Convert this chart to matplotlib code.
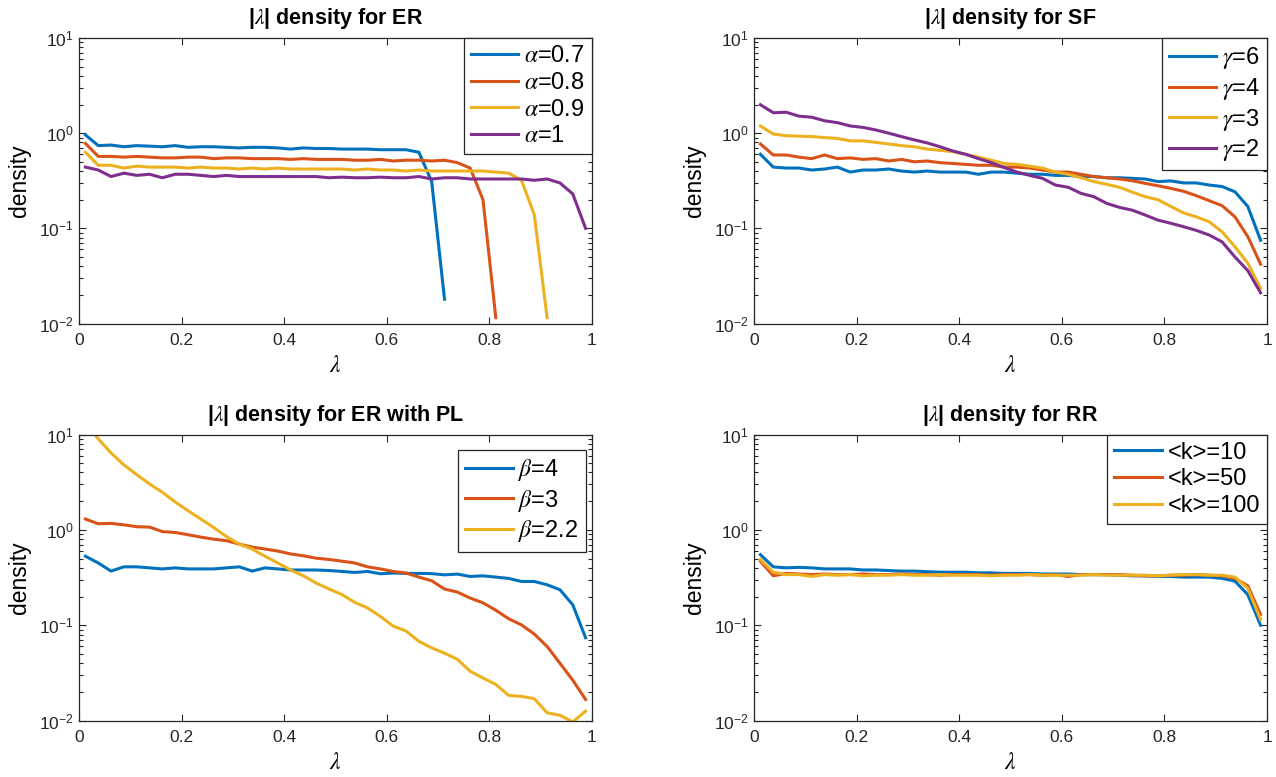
import matplotlib
matplotlib.use('Agg')
import matplotlib.pyplot as plt
import numpy as np
from matplotlib.ticker import LogLocator, FixedLocator, NullFormatter

plt.rcParams['font.family'] = ['Liberation Sans', 'DejaVu Sans']
plt.rcParams['mathtext.fontset'] = 'stix'
plt.rcParams['axes.edgecolor'] = '#262626'
plt.rcParams['xtick.color'] = '#262626'
plt.rcParams['ytick.color'] = '#262626'

# colores por defecto de MATLAB
c_blue = '#0072BD'
c_red = '#D95319'
c_yellow = '#EDB120'
c_purple = '#7E2F8E'

# centros de los bins (40 bins en [0,1])
lam = np.arange(40) * 0.025 + 0.0125

# 1. ER
er_alpha = ['0.7', '0.8', '0.9', '1']
er_07 = [0.96, 0.74, 0.75, 0.72, 0.74, 0.73, 0.72, 0.74, 0.71, 0.72, 0.72, 0.71, 0.70, 0.71, 0.71,
         0.70, 0.68, 0.70, 0.69, 0.69, 0.68, 0.68, 0.68, 0.67, 0.67, 0.67, 0.63, 0.31, 0.018]
er_08 = [0.78, 0.57, 0.57, 0.56, 0.57, 0.56, 0.55, 0.55, 0.56, 0.56, 0.54, 0.55, 0.55, 0.54, 0.54,
         0.54, 0.53, 0.54, 0.53, 0.53, 0.53, 0.52, 0.52, 0.53, 0.51, 0.52, 0.52, 0.51, 0.52, 0.49,
         0.43, 0.20, 0.0115]
er_09 = [0.63, 0.46, 0.46, 0.43, 0.45, 0.44, 0.44, 0.44, 0.43, 0.44, 0.43, 0.43, 0.42, 0.43, 0.42,
         0.43, 0.42, 0.42, 0.42, 0.42, 0.42, 0.41, 0.42, 0.41, 0.41, 0.40, 0.41, 0.40, 0.40, 0.40,
         0.40, 0.40, 0.39, 0.38, 0.32, 0.139, 0.0115]
er_10 = [0.44, 0.41, 0.35, 0.38, 0.36, 0.37, 0.34, 0.37, 0.37, 0.36, 0.35, 0.36, 0.35, 0.35, 0.35,
         0.35, 0.35, 0.35, 0.35, 0.34, 0.345, 0.34, 0.34, 0.345, 0.34, 0.34, 0.35, 0.33, 0.34, 0.34,
         0.33, 0.33, 0.33, 0.33, 0.33, 0.32, 0.33, 0.30, 0.23, 0.10]

# 2. SF
sf_gamma = ['6', '4', '3', '2']
sf_6 = [0.60, 0.44, 0.43, 0.43, 0.41, 0.42, 0.44, 0.39, 0.41, 0.41, 0.42, 0.40, 0.39, 0.40, 0.39,
        0.39, 0.39, 0.37, 0.39, 0.39, 0.38, 0.37, 0.37, 0.36, 0.36, 0.35, 0.35, 0.34, 0.34, 0.335,
        0.33, 0.31, 0.315, 0.30, 0.30, 0.285, 0.275, 0.242, 0.17, 0.075]
sf_4 = [0.77, 0.59, 0.59, 0.56, 0.54, 0.59, 0.54, 0.55, 0.53, 0.54, 0.51, 0.53, 0.50, 0.51, 0.49,
        0.48, 0.47, 0.46, 0.46, 0.44, 0.44, 0.43, 0.41, 0.39, 0.39, 0.37, 0.35, 0.34, 0.33, 0.316,
        0.297, 0.28, 0.263, 0.245, 0.22, 0.195, 0.173, 0.132, 0.082, 0.042]
sf_3 = [1.19, 0.98, 0.94, 0.93, 0.92, 0.90, 0.88, 0.83, 0.83, 0.80, 0.77, 0.74, 0.72, 0.68, 0.66,
        0.64, 0.60, 0.56, 0.52, 0.48, 0.47, 0.45, 0.43, 0.39, 0.37, 0.34, 0.31, 0.29, 0.27, 0.24,
        0.215, 0.20, 0.17, 0.145, 0.132, 0.117, 0.092, 0.064, 0.043, 0.0235]
sf_2 = [1.99, 1.64, 1.66, 1.51, 1.47, 1.35, 1.29, 1.19, 1.15, 1.08, 1.00, 0.92, 0.85, 0.79, 0.72,
        0.65, 0.60, 0.54, 0.49, 0.436, 0.39, 0.36, 0.335, 0.285, 0.27, 0.233, 0.215, 0.183, 0.166,
        0.155, 0.138, 0.122, 0.113, 0.104, 0.095, 0.085, 0.072, 0.050, 0.036, 0.021]

# 3. ER con PL
pl_beta = ['4', '3', '2.2']
pl_4 = [0.53, 0.45, 0.37, 0.41, 0.41, 0.40, 0.39, 0.40, 0.39, 0.39, 0.39, 0.40, 0.41, 0.37, 0.40,
        0.39, 0.38, 0.38, 0.38, 0.375, 0.367, 0.358, 0.367, 0.347, 0.353, 0.35, 0.35, 0.348, 0.338,
        0.344, 0.325, 0.33, 0.32, 0.31, 0.288, 0.288, 0.266, 0.236, 0.164, 0.074]
pl_3 = [1.30, 1.16, 1.17, 1.13, 1.08, 1.07, 0.96, 0.94, 0.89, 0.84, 0.80, 0.77, 0.71, 0.66, 0.63,
        0.60, 0.56, 0.535, 0.505, 0.49, 0.47, 0.45, 0.41, 0.39, 0.367, 0.353, 0.32, 0.293, 0.24,
        0.223, 0.193, 0.172, 0.144, 0.117, 0.101, 0.081, 0.060, 0.040, 0.0266, 0.0167]
pl_22 = [13.5, 9.0, 6.4, 4.8, 3.8, 3.03, 2.48, 1.96, 1.59, 1.30, 1.06, 0.85, 0.71, 0.63, 0.53,
         0.45, 0.38, 0.33, 0.277, 0.24, 0.21, 0.174, 0.152, 0.124, 0.098, 0.087, 0.068, 0.058,
         0.051, 0.044, 0.033, 0.028, 0.024, 0.0184, 0.018, 0.017, 0.0121, 0.0114, 0.0097, 0.0126]

# 4. RR
rr_k = ['10', '50', '100']
rr_10 = [0.55, 0.41, 0.40, 0.405, 0.40, 0.39, 0.39, 0.39, 0.38, 0.38, 0.375, 0.37, 0.37, 0.365,
         0.36, 0.36, 0.36, 0.355, 0.355, 0.35, 0.35, 0.35, 0.345, 0.345, 0.345, 0.34, 0.34, 0.34,
         0.335, 0.33, 0.33, 0.325, 0.325, 0.32, 0.32, 0.32, 0.31, 0.29, 0.21, 0.10]
rr_50 = [0.47, 0.33, 0.35, 0.345, 0.34, 0.345, 0.34, 0.34, 0.345, 0.34, 0.34, 0.345, 0.34, 0.34,
         0.335, 0.34, 0.34, 0.34, 0.335, 0.34, 0.34, 0.34, 0.335, 0.34, 0.325, 0.34, 0.34, 0.34,
         0.34, 0.335, 0.33, 0.33, 0.335, 0.335, 0.34, 0.335, 0.33, 0.31, 0.26, 0.13]
rr_100 = [0.49, 0.36, 0.34, 0.34, 0.325, 0.34, 0.335, 0.34, 0.33, 0.335, 0.335, 0.34, 0.335,
          0.335, 0.34, 0.335, 0.335, 0.335, 0.33, 0.335, 0.335, 0.34, 0.335, 0.335, 0.335, 0.335,
          0.34, 0.335, 0.335, 0.335, 0.335, 0.33, 0.335, 0.34, 0.34, 0.335, 0.335, 0.32, 0.245,
          0.115]

W, H = 1276, 777
fig = plt.figure(figsize=(W / 100, H / 100), dpi=100)


def make_ax(x0, y0, x1, y1):
    # posicion en pixeles (arriba-izquierda / abajo-derecha)
    ax = fig.add_axes([x0 / W, 1 - y1 / H, (x1 - x0) / W, (y1 - y0) / H])
    ax.set_yscale('log')
    ax.set_xlim(0, 1)
    ax.set_ylim(1e-2, 1e1)
    ax.xaxis.set_major_locator(FixedLocator([0, 0.2, 0.4, 0.6, 0.8, 1]))
    ax.set_xticklabels(['0', '0.2', '0.4', '0.6', '0.8', '1'])
    ax.yaxis.set_major_locator(LogLocator(base=10, numticks=10))
    ax.yaxis.set_minor_locator(LogLocator(base=10, subs=np.arange(2, 10), numticks=20))
    ax.yaxis.set_minor_formatter(NullFormatter())
    ax.tick_params(which='both', direction='in', top=True, right=True, labelsize=12.5,
                   width=0.8)
    ax.tick_params(axis='x', which='major', pad=7)
    ax.tick_params(which='major', length=5)
    ax.tick_params(which='minor', length=3)
    for s in ax.spines.values():
        s.set_linewidth(0.9)
    ax.set_xlabel(r'$\lambda$', fontsize=17, labelpad=5)
    ax.set_ylabel('density', fontsize=16.5, labelpad=6)
    return ax


def legend(ax, labels, loc, anchor):
    lg = ax.legend(labels, loc=loc, bbox_to_anchor=anchor, fontsize=17, frameon=True,
                   fancybox=False, borderaxespad=0, handlelength=2.0, handletextpad=0.25,
                   borderpad=0.3, labelspacing=0.2)
    lg.get_frame().set_edgecolor('#262626')
    lg.get_frame().set_linewidth(0.9)
    lg.get_frame().set_alpha(1)
    return lg


lw = 2.2

ax1 = make_ax(79, 38, 592, 323.5)
for v, c in zip([er_07, er_08, er_09, er_10], [c_blue, c_red, c_yellow, c_purple]):
    ax1.plot(lam[:len(v)], v, color=c, lw=lw)
ax1.set_title(r'|$\lambda$| density for ER', fontsize=15.5, fontweight='bold', pad=10)
legend(ax1, [r'$\alpha$=' + a for a in er_alpha], 'upper right', (1, 1))

ax2 = make_ax(754, 38, 1267, 323.5)
for v, c in zip([sf_6, sf_4, sf_3, sf_2], [c_blue, c_red, c_yellow, c_purple]):
    ax2.plot(lam, v, color=c, lw=lw)
ax2.set_title(r'|$\lambda$| density for SF', fontsize=15.5, fontweight='bold', pad=10)
legend(ax2, [r'$\gamma$=' + g for g in sf_gamma], 'upper right', (1, 1))

ax3 = make_ax(79, 434.5, 592, 720.7)
for v, c in zip([pl_4, pl_3, pl_22], [c_blue, c_red, c_yellow]):
    ax3.plot(lam, v, color=c, lw=lw)
ax3.set_title(r'|$\lambda$| density for ER with PL', fontsize=15.5, fontweight='bold', pad=10)
legend(ax3, [r'$\beta$=' + b for b in pl_beta], 'upper right', (0.988, 0.946))

ax4 = make_ax(754, 434.5, 1267, 720.7)
for v, c in zip([rr_10, rr_50, rr_100], [c_blue, c_red, c_yellow]):
    ax4.plot(lam, v, color=c, lw=lw)
ax4.set_title(r'|$\lambda$| density for RR', fontsize=15.5, fontweight='bold', pad=10)
legend(ax4, ['<k>=' + k for k in rr_k], 'upper right', (1, 1))

fig.savefig('out.png', dpi=100)
